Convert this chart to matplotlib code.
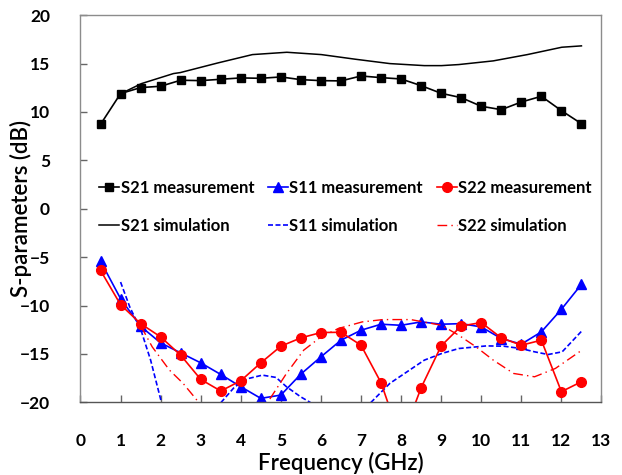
import numpy as np
import matplotlib.pyplot as plt

plt.rcParams['font.family'] = ['Lato', 'DejaVu Sans']

# measured points, 0.5 .. 12.5 GHz
freq = np.arange(0.5, 12.51, 0.5)
s21_meas = [8.72, 11.9, 12.52, 12.66, 13.28, 13.24, 13.38, 13.52, 13.48, 13.62,
            13.34, 13.24, 13.21, 13.72, 13.55, 13.41, 12.72, 11.93, 11.48, 10.59,
            10.24, 11.03, 11.62, 10.14, 8.79]
s11_meas = [-5.41, -9.29, -12.14, -13.86, -14.89, -15.92, -17.12, -18.39, -19.59, -19.25,
            -17.08, -15.3, -13.58, -12.55, -11.93, -12.04, -11.69, -11.93, -11.87, -12.21,
            -13.41, -13.99, -12.72, -10.39, -7.81]
s22_meas = [-6.37, -9.91, -11.87, -13.24, -15.13, -17.63, -18.83, -17.77, -15.92, -14.2,
            -13.34, -12.79, -12.76, -14.1, -17.98, -24.0, -18.49, -14.17, -12.11, -11.76,
            -13.34, -14.1, -13.58, -18.9, -17.87]

# simulation curves
s21_sim_f = [1.01, 1.52, 2.32, 2.49, 3.43, 4.29, 5.15, 6.01, 6.86, 7.72, 8.58, 9.01,
             9.44, 10.3, 11.15, 12.01, 12.5]
s21_sim = [11.9, 12.93, 13.97, 14.07, 15.07, 15.93, 16.17, 15.93, 15.45, 15.0, 14.79,
           14.79, 14.9, 15.28, 15.93, 16.69, 16.83]

s11_sim_f = [1.0, 1.23, 1.51, 1.75, 2.02, 2.09, np.nan,
             3.38, 3.51, 3.85, 4.2, 4.54, 4.88, 5.14, 5.49, 5.73, 5.83, np.nan,
             7.12, 7.25, 7.72, 8.15, 8.58, 9.01, 9.44, 10.13, 10.56, 10.99, 11.33,
             11.67, 12.02, 12.51]
s11_sim = [-7.57, -10.15, -12.55, -15.64, -20.0, -21.5, np.nan,
           -21.5, -20.0, -18.39, -17.53, -17.19, -17.43, -18.39, -19.42, -20.0, -21.5, np.nan,
           -21.5, -20.0, -18.04, -16.84, -15.64, -14.96, -14.44, -14.17, -14.2, -14.44,
           -14.78, -15.06, -14.78, -12.62]

s22_sim_f = [1.51, 1.79, 2.22, 2.56, 2.95, 3.08, np.nan,
             4.54, 4.67, 5.14, 5.57, 6.0, 6.43, 7.03, 7.55, 8.24, 9.01, 9.44, 9.87,
             10.3, 10.81, 11.33, 11.85, 12.51]
s22_sim = [-12.14, -14.27, -16.67, -18.04, -20.0, -21.5, np.nan,
           -21.5, -20.0, -17.02, -14.61, -13.24, -12.38, -11.69, -11.45, -11.45, -12.04,
           -13.07, -14.27, -15.64, -17.02, -17.36, -16.5, -14.61]

fig = plt.figure(figsize=(6.22, 4.75), dpi=100)
ax = fig.add_axes([0.1294, 0.153, 0.8376, 0.815])

blue = '#0000ff'
red = '#ff0000'

l1, = ax.plot(freq, s21_meas, color='black', lw=1.2, marker='s', ms=5.5,
              label='S21 measurement')
l2, = ax.plot(s21_sim_f, s21_sim, color='black', lw=1.1, label='S21 simulation')
l3, = ax.plot(freq, s11_meas, color=blue, lw=1.2, marker='^', ms=7,
              label='S11 measurement')
l4, = ax.plot(s11_sim_f, s11_sim, color=blue, lw=1.2, ls=(0, (3, 1.5)),
              label='S11 simulation')
l5, = ax.plot(freq, s22_meas, color=red, lw=1.2, marker='o', ms=7,
              label='S22 measurement')
l6, = ax.plot(s22_sim_f, s22_sim, color=red, lw=1.0, ls=(0, (7, 3, 1, 3)),
              label='S22 simulation')

ax.set_xlim(0, 13)
ax.set_ylim(-20, 20)
ax.set_xticks(range(0, 14))
ax.set_yticks(range(-20, 21, 5))

for sp in ax.spines.values():
    sp.set_color('#8c8c8c')
    sp.set_linewidth(1.0)
ax.spines['bottom'].set_color('#555555')
ax.tick_params(direction='in', length=5, width=1, color='#666666',
               labelsize=12.5)
ax.tick_params(axis='x', pad=22)
ax.tick_params(axis='y', pad=22)
for t in ax.get_xticklabels() + ax.get_yticklabels():
    t.set_fontweight('bold')

ax.set_xlabel('Frequency (GHz)', fontsize=16, fontweight='semibold', labelpad=2)
ax.set_ylabel('S-parameters (dB)', fontsize=16, fontweight='semibold')
ax.yaxis.set_label_coords(-0.094, 0.5)

leg = ax.legend(handles=[l1, l2, l3, l4, l5, l6], ncol=3, frameon=False,
                loc='upper left', bbox_to_anchor=(0.0226, 0.592),
                prop={'weight': 'bold', 'size': 12},
                handlelength=1.2, handletextpad=0.1, columnspacing=0.82,
                labelspacing=1.35, borderaxespad=0)

fig.savefig('out.png', dpi=100)
